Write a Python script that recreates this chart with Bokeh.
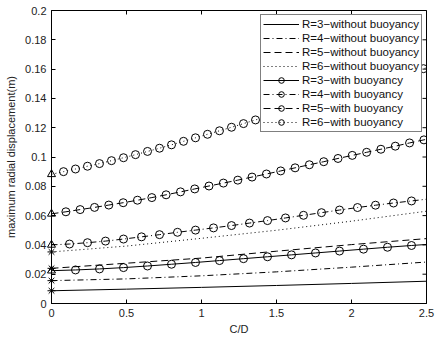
import math
from bokeh.plotting import figure
from bokeh.models import FixedTicker, Range1d, Legend, LegendItem
from bokeh.embed import file_html
from bokeh.resources import INLINE

# ---- data ----
x_ticks = [0, 0.5, 1, 1.5, 2, 2.5]
x_tick_labels = ["0", "0.5", "1", "1.5", "2", "2.5"]
y_ticks = [0, 0.02, 0.04, 0.06, 0.08, 0.1, 0.12, 0.14, 0.16, 0.18, 0.2]
y_tick_labels = ["0", "0.02", "0.04", "0.06", "0.08", "0.1", "0.12", "0.14", "0.16", "0.18", "0.2"]

# without buoyancy
x_nb = [0, 0.5, 1.0, 1.5, 2.0, 2.5]
r3_nb = [0.0087, 0.0098, 0.0110, 0.0123, 0.0137, 0.0152]
r4_nb = [0.0156, 0.0168, 0.0189, 0.0216, 0.0248, 0.0283]
r5_nb = [0.0240, 0.0275, 0.0310, 0.0357, 0.0402, 0.0443]
r6_nb = [0.0352, 0.0392, 0.0445, 0.0500, 0.0562, 0.0630]

# with buoyancy
x_r3 = [0, 0.16, 0.32, 0.48, 0.64, 0.80, 0.96, 1.12, 1.28, 1.44, 1.60, 1.76, 1.92, 2.08, 2.24, 2.40, 2.5]
r3_b = [0.0224, 0.0229, 0.0236, 0.0245, 0.0256, 0.0268, 0.0280, 0.0293, 0.0306, 0.0319, 0.0332,
        0.0345, 0.0358, 0.0371, 0.0384, 0.0396, 0.0403]
x_r4 = [0, 0.12, 0.24, 0.36, 0.48, 0.60, 0.72, 0.84, 0.96, 1.08, 1.20, 1.32, 1.44, 1.56, 1.68,
        1.80, 1.92, 2.04, 2.16, 2.28, 2.40, 2.5]
r4_b = [0.0400, 0.0406, 0.0415, 0.0426, 0.0440, 0.0455, 0.0470, 0.0486, 0.0501, 0.0516, 0.0532,
        0.0549, 0.0566, 0.0584, 0.0602, 0.0620, 0.0638, 0.0655, 0.0671, 0.0686, 0.0700, 0.0712]
x_r5 = [0, 0.096, 0.191, 0.287, 0.382, 0.478, 0.573, 0.669, 0.764, 0.860, 0.955, 1.050, 1.146,
        1.242, 1.337, 1.433, 1.528, 1.624, 1.719, 1.815, 1.910, 2.005, 2.101, 2.196, 2.292, 2.387,
        2.483, 2.5]
r5_b = [0.0612, 0.0626, 0.0641, 0.0656, 0.0672, 0.0688, 0.0705, 0.0723, 0.0742, 0.0762, 0.0782,
        0.0802, 0.0822, 0.0842, 0.0863, 0.0884, 0.0905, 0.0926, 0.0947, 0.0968, 0.0990, 0.1011,
        0.1032, 0.1053, 0.1074, 0.1096, 0.1117, 0.1121]
x_r6 = [0, 0.08, 0.16, 0.24, 0.32, 0.40, 0.48, 0.56, 0.64, 0.72, 0.80, 0.88, 0.96, 1.04, 1.12,
        1.20, 1.28, 1.36, 1.44, 1.52, 1.60, 1.68, 1.76, 1.84, 1.92, 2.00, 2.08, 2.16, 2.24, 2.32,
        2.40, 2.48, 2.5]
r6_b = [0.0882, 0.0900, 0.0918, 0.0937, 0.0955, 0.0975, 0.0995, 0.1016, 0.1038, 0.1060, 0.1083,
        0.1107, 0.1131, 0.1155, 0.1179, 0.1203, 0.1228, 0.1253, 0.1278, 0.1303, 0.1328, 0.1353,
        0.1378, 0.1403, 0.1428, 0.1453, 0.1478, 0.1503, 0.1528, 0.1553, 0.1578, 0.1603, 0.1609]

labels = ["R=3\u2212without buoyancy", "R=4\u2212without buoyancy", "R=5\u2212without buoyancy",
          "R=6\u2212without buoyancy", "R=3\u2212with buoyancy", "R=4\u2212with buoyancy",
          "R=5\u2212with buoyancy", "R=6\u2212with buoyancy"]

FONT = "Liberation Sans"
x_lo, x_hi = 0, 2.5
y_lo, y_hi = 0, 0.2

p = figure(width=437, height=337, output_backend="svg", toolbar_location=None,
           x_range=Range1d(x_lo, x_hi), y_range=Range1d(y_lo, y_hi),
           min_border_left=51, min_border_right=11, min_border_top=10, min_border_bottom=34)
p.xgrid.visible = False
p.ygrid.visible = False
p.outline_line_color = "black"
p.outline_line_width = 1

for ax in (p.xaxis[0], p.yaxis[0]):
    ax.major_tick_in = 4
    ax.major_tick_out = 0
    ax.minor_tick_line_color = None
    ax.axis_line_color = "black"
    ax.major_tick_line_color = "black"
    ax.major_label_text_font = FONT
    ax.major_label_text_font_size = "11px"
    ax.major_label_text_color = "#222222"
    ax.axis_label_text_font = FONT
    ax.axis_label_text_font_size = "11px"
    ax.axis_label_text_font_style = "normal"
    ax.axis_label_text_color = "#222222"

p.xaxis.ticker = FixedTicker(ticks=x_ticks)
p.xaxis.major_label_overrides = dict(zip(x_ticks, x_tick_labels))
p.xaxis.axis_label = "C/D"
p.xaxis.major_label_standoff = 5
p.xaxis.axis_label_standoff = 3
p.yaxis.ticker = FixedTicker(ticks=y_ticks)
p.yaxis.major_label_overrides = dict(zip(y_ticks, y_tick_labels))
p.yaxis.axis_label = "maximum radial displacement(m)"
p.yaxis.major_label_standoff = 5
p.yaxis.axis_label_standoff = 5

# mirrored inward ticks on the top and right edges (half of each dash is clipped by the frame)
p.scatter(x_ticks, [y_hi] * len(x_ticks), marker="dash", angle=math.pi / 2, size=8,
          line_color="black", line_width=1)
p.scatter([x_hi] * len(y_ticks), y_ticks, marker="dash", size=8,
          line_color="black", line_width=1)

items = []
dash_styles = ["solid", "6 3 1 3", "7 4", "1 3"]

nb_series = [r3_nb, r4_nb, r5_nb, r6_nb]
for i, ys in enumerate(nb_series):
    ln = p.line(x_nb, ys, line_color="black", line_width=1, line_dash=dash_styles[i])
    items.append(LegendItem(label=labels[i], renderers=[ln]))
    p.scatter([x_nb[0]], [ys[0]], marker="asterisk", size=8, line_color="black",
              line_width=1, level="overlay")

b_series = [(x_r3, r3_b), (x_r4, r4_b), (x_r5, r5_b), (x_r6, r6_b)]
for i, (xs, ys) in enumerate(b_series):
    ln = p.line(xs, ys, line_color="black", line_width=1, line_dash=dash_styles[i])
    sc = p.scatter(xs[1:-1], ys[1:-1], marker="circle", size=8, fill_color=None,
                   line_color="black", line_width=1)
    items.append(LegendItem(label=labels[4 + i], renderers=[ln, sc]))
    p.scatter([xs[0]], [ys[0]], marker="triangle", size=8, fill_color=None,
              line_color="black", line_width=1, level="overlay")

legend = Legend(items=items, location="top_right")
legend.label_text_font = FONT
legend.label_text_font_size = "11.5px"
legend.label_text_color = "#111111"
legend.glyph_width = 36
legend.glyph_height = 14
legend.label_height = 14
legend.label_standoff = 3
legend.spacing = 0
legend.padding = 2
legend.margin = 4
legend.border_line_color = "black"
legend.border_line_width = 1
legend.background_fill_color = "white"
legend.background_fill_alpha = 1
p.add_layout(legend)

open("out.html", "w").write(file_html(p, INLINE))
